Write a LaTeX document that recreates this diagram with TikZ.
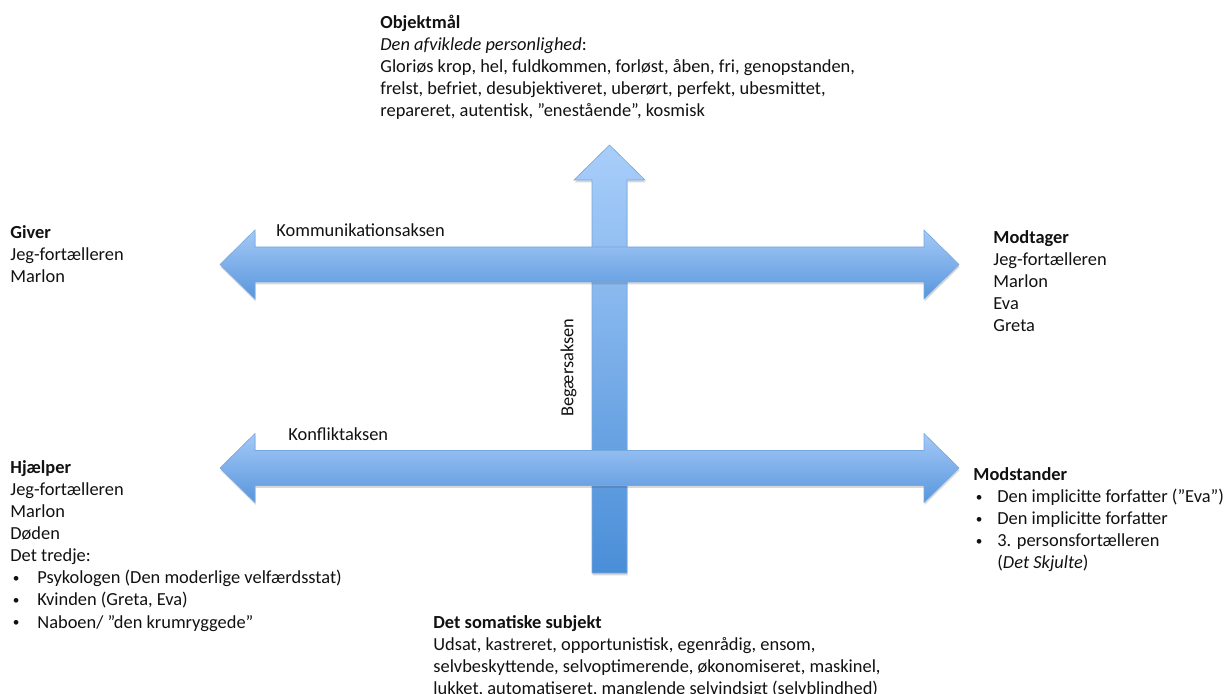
\documentclass[tikz,border=0pt]{standalone}
\usepackage{fontspec}
\setmainfont{Carlito}
\usetikzlibrary{shadows}
\definecolor{vtop}{HTML}{A9CEFA}
\definecolor{vbot}{HTML}{4A8ED8}
\definecolor{htop}{HTML}{A4C9F6}
\definecolor{hbot}{HTML}{5896DD}
\definecolor{aedge}{HTML}{76A7DE}
\definecolor{txt}{HTML}{111111}
\tikzset{
  bigarrow/.style={draw=aedge, line width=0.3pt, line join=miter,
    drop shadow={shadow xshift=0.3pt, shadow yshift=-1.2pt, opacity=0.22, fill=black!70}},
  varrow/.style={bigarrow, top color=vtop, bottom color=vbot},
  harrow/.style={bigarrow, top color=htop, bottom color=hbot},
  txtblock/.style={inner sep=0pt, anchor=north west, align=left, text=txt,
    font=\fontsize{9.2}{11.05}\selectfont, execute at begin node=\strut},
  axislabel/.style={inner sep=0pt, anchor=base west, text=txt,
    font=\fontsize{9.2}{11.05}\selectfont}
}
\newcommand{\blt}[1][13.5pt]{\makebox[#1][l]{\hspace{1.2pt}\raisebox{0.7pt}{\scalebox{0.72}{•}}}}
\begin{document}
\begin{tikzpicture}[x=0.5pt, y=-0.5pt]
\useasboundingbox (0,0) rectangle (1224,694);

% vertical arrow (Begærsaksen)
\path[varrow] (592,573) -- (592,180) -- (574,180) -- (609.5,145) -- (645,180)
  -- (627,180) -- (627,573) -- cycle;

% upper horizontal arrow (Kommunikationsaksen)
\path[harrow] (255,247) -- (924,247) -- (924,230) -- (959,264.5) -- (924,299)
  -- (924,282) -- (255,282) -- (255,299) -- (220,264.5) -- (255,230) -- cycle;

% lower horizontal arrow (Konfliktaksen)
\path[harrow] (255,450.5) -- (924,450.5) -- (924,433.5) -- (959,468) -- (924,502.5)
  -- (924,485.5) -- (255,485.5) -- (255,502.5) -- (220,468) -- (255,433.5) -- cycle;

% axis labels
\node[axislabel] (komm) at (276,236.5) {Kommunikationsaksen};
\node[axislabel] (konf) at (288,440) {Konfliktaksen};
\node[inner sep=0pt, rotate=90, text=txt, font=\fontsize{9.2}{11.05}\selectfont]
  (beg) at (568.5,367.5) {Begærsaksen};

% text blocks
\node[txtblock] (obj) at (380,14.5) {\textbf{Objektmål}\\
\textit{Den afviklede personlighed}:\\
Gloriøs krop, hel, fuldkommen, forløst, åben, fri, genopstanden,\\
frelst, befriet, desubjektiveret, uberørt, perfekt, ubesmittet,\\
repareret, autentisk, ”enestående”, kosmisk};

\node[txtblock] (giver) at (10,225) {\textbf{Giver}\\
Jeg-fortælleren\\
Marlon};

\node[txtblock] (modt) at (993,230) {\textbf{Modtager}\\
Jeg-fortælleren\\
Marlon\\
Eva\\
Greta};

\node[txtblock] (hjael) at (10,460) {\textbf{Hjælper}\\
Jeg-fortælleren\\
Marlon\\
Døden\\
Det tredje:\\
\blt Psykologen (Den moderlige velfærdsstat)\\
\blt Kvinden (Greta, Eva)\\
\blt Naboen/ ”den krumryggede”};

\node[txtblock] (modst) at (973,467) {\textbf{Modstander}\\
\blt[12pt]Den implicitte forfatter (”Eva”)\\
\blt[12pt]Den implicitte forfatter\\
\blt[12pt]3. personsfortælleren\\
\hspace*{12pt}(\textit{Det Skjulte})};

\node[txtblock] (soma) at (433,615) {\textbf{Det somatiske subjekt}\\
Udsat, kastreret, opportunistisk, egenrådig, ensom,\\
selvbeskyttende, selvoptimerende, økonomiseret, maskinel,\\
lukket, automatiseret, manglende selvindsigt (selvblindhed)};
\end{tikzpicture}
\end{document}
